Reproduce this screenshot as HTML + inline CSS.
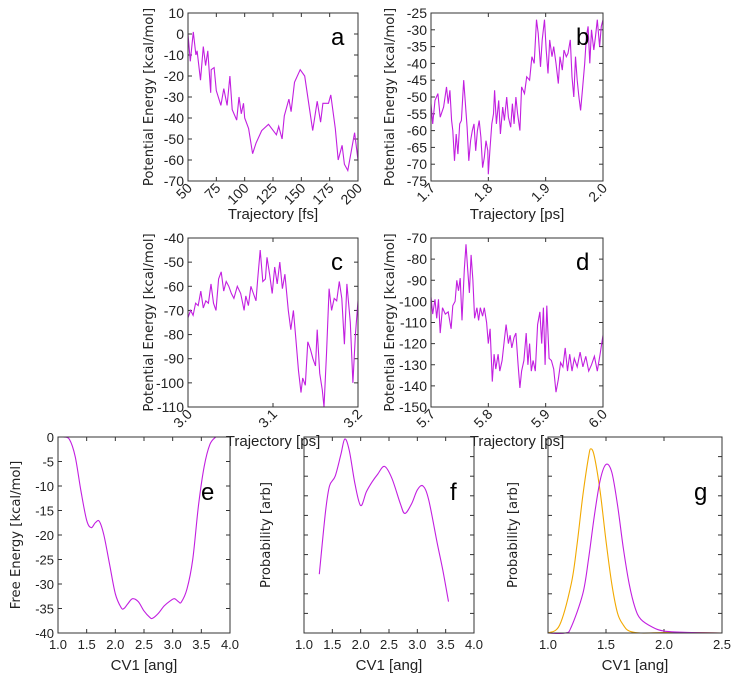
<!DOCTYPE html>
<html><head><meta charset="utf-8"><style>
body{margin:0;background:#fff}
svg{display:block;font-family:"Liberation Sans","DejaVu Sans",sans-serif}
</style></head><body>
<svg id="chart" width="734" height="679" viewBox="0 0 734 679" xmlns="http://www.w3.org/2000/svg"></svg>
<script>
// Panel a
const aX=[50,52,54.7,57,58,61,63.5,65.5,67.5,70,70.5,73,75,79,81.6,84.5,87,89,93,95,97,99,100,103.5,107,110,115,121,128,130,133,135,139,141,144,149,153,160,164,167,169,174,176,180,182.5,186,188,191,197,200];
const aY=[0,-13,1,-10,-8,-22,-6,-15,-8,-28,-17,-16,-27,-34,-26,-34,-20,-36,-41,-30,-38,-33,-40,-45,-57,-52,-46,-43,-48,-44,-50,-39,-31,-37,-23,-17,-20,-46,-32,-42,-33,-33,-29,-45,-60,-53,-62,-65,-47,-60];
// Panel b
const bX=[1.700,1.703,1.707,1.712,1.716,1.722,1.727,1.730,1.733,1.736,1.738,1.741,1.744,1.747,1.750,1.753,1.757,1.760,1.763,1.766,1.769,1.772,1.775,1.778,1.781,1.784,1.787,1.790,1.793,1.796,1.799,1.800,1.803,1.806,1.809,1.811,1.814,1.818,1.821,1.825,1.828,1.832,1.835,1.839,1.842,1.845,1.848,1.851,1.855,1.858,1.863,1.867,1.872,1.876,1.880,1.884,1.887,1.891,1.894,1.898,1.901,1.904,1.907,1.911,1.914,1.918,1.922,1.925,1.929,1.932,1.936,1.939,1.943,1.946,1.949,1.952,1.955,1.958,1.961,1.964,1.968,1.971,1.974,1.977,1.980,1.984,1.987,1.990,1.994,1.997,2.000];
const bY=[-52,-58,-51,-49,-56,-53,-47,-52,-48,-57,-60,-69,-61,-67,-58,-57,-45,-52,-59,-69,-63,-60,-58,-66,-60,-57,-62,-71,-68,-63,-66,-73,-65,-58,-55,-48,-58,-51,-61,-53,-57,-50,-56,-59,-52,-58,-50,-55,-60,-47,-49,-44,-45,-38,-40,-27,-31,-41,-33,-27,-36,-43,-33,-38,-35,-40,-46,-38,-42,-36,-38,-37,-33,-44,-50,-38,-45,-50,-54,-48,-40,-32,-29,-40,-30,-36,-32,-27,-35,-29,-27];
// Panel c
const cX=[3.000,3.003,3.006,3.009,3.012,3.015,3.018,3.021,3.024,3.027,3.030,3.033,3.036,3.039,3.042,3.045,3.048,3.051,3.054,3.058,3.062,3.066,3.068,3.071,3.074,3.077,3.080,3.082,3.085,3.088,3.091,3.093,3.096,3.099,3.102,3.105,3.108,3.111,3.114,3.118,3.121,3.124,3.127,3.130,3.133,3.135,3.138,3.141,3.144,3.147,3.150,3.152,3.155,3.158,3.160,3.163,3.166,3.169,3.172,3.175,3.178,3.181,3.184,3.187,3.191,3.194,3.197,3.200];
const cY=[-73,-70,-72,-67,-68,-62,-69,-66,-67,-59,-67,-70,-57,-54,-62,-58,-60,-63,-65,-60,-63,-70,-64,-68,-60,-63,-66,-57,-45,-58,-57,-48,-55,-63,-52,-59,-50,-61,-55,-70,-78,-70,-82,-95,-104,-98,-101,-83,-86,-90,-93,-78,-96,-103,-110,-88,-61,-70,-65,-66,-58,-65,-84,-59,-75,-100,-80,-66];
// Panel d
const dX=[5.700,5.703,5.707,5.710,5.713,5.716,5.720,5.725,5.730,5.735,5.738,5.742,5.745,5.748,5.751,5.754,5.758,5.761,5.764,5.767,5.770,5.773,5.776,5.780,5.783,5.786,5.790,5.793,5.797,5.800,5.803,5.807,5.810,5.813,5.817,5.820,5.824,5.828,5.831,5.835,5.838,5.841,5.845,5.848,5.852,5.855,5.858,5.862,5.866,5.869,5.872,5.875,5.878,5.882,5.886,5.890,5.893,5.896,5.899,5.902,5.906,5.910,5.914,5.918,5.922,5.926,5.930,5.934,5.938,5.942,5.946,5.950,5.955,5.960,5.965,5.970,5.975,5.980,5.985,5.990,5.995,6.000];
const dY=[-98,-106,-99,-108,-99,-115,-103,-106,-105,-113,-102,-100,-90,-95,-89,-109,-85,-73,-85,-96,-78,-90,-108,-103,-109,-103,-107,-103,-110,-120,-113,-138,-125,-132,-125,-133,-128,-118,-111,-120,-116,-122,-117,-115,-130,-141,-133,-128,-115,-130,-120,-133,-128,-133,-111,-105,-120,-103,-130,-102,-127,-128,-132,-143,-137,-129,-131,-122,-133,-125,-133,-127,-131,-124,-131,-126,-133,-130,-126,-133,-125,-116];
// Panel e
const eX=[1.1,1.2,1.3,1.4,1.5,1.58,1.65,1.72,1.8,1.9,2.0,2.1,2.15,2.22,2.3,2.4,2.5,2.6,2.65,2.75,2.85,2.95,3.03,3.1,3.15,3.25,3.35,3.45,3.55,3.65,3.75];
const eY=[0,-0.5,-4,-11,-17,-18.5,-17.5,-17.2,-20,-26,-32,-34.8,-35,-34,-33,-33.6,-35.5,-36.8,-37,-36,-34.5,-33.5,-33,-33.6,-33.7,-31,-25,-14,-6,-1.5,0];
// Panel f
const fX=[1.27,1.38,1.45,1.55,1.65,1.72,1.8,1.9,2.0,2.1,2.2,2.3,2.42,2.55,2.7,2.78,2.9,3.0,3.1,3.2,3.35,3.45,3.55];
const fY=[0.30,0.62,0.75,0.80,0.91,0.99,0.93,0.76,0.65,0.72,0.77,0.81,0.85,0.79,0.66,0.61,0.66,0.73,0.75,0.68,0.46,0.32,0.16];
// Panel g
const gOX=[1.0,1.1,1.2,1.25,1.3,1.35,1.37,1.4,1.45,1.5,1.55,1.6,1.65,1.7,1.8,2.0,2.25,2.5];
const gOY=[0,0.04,0.25,0.45,0.7,0.9,0.94,0.9,0.72,0.47,0.25,0.1,0.04,0.01,0,0.002,0.002,0];
const gPX=[1.0,1.15,1.2,1.3,1.35,1.4,1.45,1.5,1.55,1.6,1.65,1.7,1.75,1.8,1.9,2.0,2.2,2.5];
const gPY=[0,0,0.03,0.2,0.38,0.6,0.78,0.86,0.82,0.65,0.43,0.25,0.13,0.07,0.03,0.01,0.003,0];

const aTicksX=[50,75,100,125,150,175,200], aTicksY=[10,0,-10,-20,-30,-40,-50,-60,-70];
const bTicksX=[1.7,1.8,1.9,2.0], bTicksY=[-25,-30,-35,-40,-45,-50,-55,-60,-65,-70,-75];
const cTicksX=[3.0,3.1,3.2], cTicksY=[-40,-50,-60,-70,-80,-90,-100,-110];
const dTicksX=[5.7,5.8,5.9,6.0], dTicksY=[-70,-80,-90,-100,-110,-120,-130,-140,-150];
const eTicksX=[1.0,1.5,2.0,2.5,3.0,3.5,4.0], eTicksY=[0,-5,-10,-15,-20,-25,-30,-35,-40];
const fTicksX=[1.0,1.5,2.0,2.5,3.0,3.5,4.0];
const gTicksX=[1.0,1.5,2.0,2.5];

const NS='http://www.w3.org/2000/svg';
const svg=document.getElementById('chart');
const PURPLE='#c21fe0', ORANGE='#f2a900';
function mk(tag,attrs,parent){const e=document.createElementNS(NS,tag);for(const k in attrs)e.setAttribute(k,attrs[k]);(parent||svg).appendChild(e);return e;}
function smoothPath(pts){let d='M'+pts[0][0]+','+pts[0][1];for(let i=0;i<pts.length-1;i++){const p0=pts[Math.max(0,i-1)],p1=pts[i],p2=pts[i+1],p3=pts[Math.min(pts.length-1,i+2)];const c1x=p1[0]+(p2[0]-p0[0])/6,c1y=p1[1]+(p2[1]-p0[1])/6,c2x=p2[0]-(p3[0]-p1[0])/6,c2y=p2[1]-(p3[1]-p1[1])/6;d+=' C'+c1x+','+c1y+' '+c2x+','+c2y+' '+p2[0]+','+p2[1];}return d;}

function panel(o){
  const g=mk('g',{});
  
  
  const sx=v=>o.x0+(v-o.xmin)/(o.xmax-o.xmin)*(o.x1-o.x0);
  const sy=v=>o.y1-(v-o.ymin)/(o.ymax-o.ymin)*(o.y1-o.y0);
  (o.yt||[]).forEach(t=>{const y=sy(t);
    mk('line',{x1:o.x0,x2:o.x0+4,y1:y,y2:y,stroke:'#333','stroke-width':1},g);
    mk('line',{x1:o.x1,x2:o.x1-4,y1:y,y2:y,stroke:'#333','stroke-width':1},g);
    if(o.ylab){const t2=mk('text',{x:o.x0-4,y:y+5,'text-anchor':'end','font-size':o.fs,fill:'#222'},g);t2.textContent=t;
      
      }
  });
  o.xt.forEach(t=>{const x=sx(t);
    mk('line',{x1:x,x2:x,y1:o.y1,y2:o.y1-4,stroke:'#333','stroke-width':1},g);
    mk('line',{x1:x,x2:x,y1:o.y0,y2:o.y0+4,stroke:'#333','stroke-width':1},g);
    const lbl=o.fmt?t.toFixed(1):String(t);
    let t2;
    if(o.rot){t2=mk('text',{x:x+5,y:o.y1+8,'text-anchor':'end','font-size':o.fs,fill:'#222',transform:'rotate(-45 '+(x+5)+' '+(o.y1+8)+')'},g);}
    else{t2=mk('text',{x:x,y:o.y1+16,'text-anchor':'middle','font-size':o.fs,fill:'#222'},g);}
    t2.textContent=lbl;
    
    
  });
  o.series.forEach((s,i)=>{
    const pts=s.x.map((v,j)=>[sx(v),sy(s.y[j])]);
    const d=s.smooth?smoothPath(pts):'M'+pts.map(p=>p[0].toFixed(1)+','+p[1].toFixed(1)).join(' L');
    const p=mk('path',{d:d,fill:'none',stroke:s.c,'stroke-width':1.1},g);
    
    
  });
  const box=mk('rect',{x:o.x0,y:o.y0,width:o.x1-o.x0,height:o.y1-o.y0,fill:'none',stroke:'#333','stroke-width':1},g);
  
  
  const L=mk('text',{x:o.lx,y:o.ly,'font-size':24,fill:'#000'},g);L.textContent=o.id;
  
  
  const xl=mk('text',{x:(o.x0+o.x1)/2,y:o.xly,'text-anchor':'middle','font-size':15,fill:'#222'},g);xl.textContent=o.xlabel;
  
  
  const yl=mk('text',{x:0,y:0,'text-anchor':'middle','font-size':13.2,fill:'#222','font-family':'DejaVu Sans, sans-serif',transform:'translate('+o.ylx+' '+(o.y0+o.y1)/2+') rotate(-90)'},g);yl.textContent=o.ylabel;
  
  
}
const PE='Potential Energy [kcal/mol]';
panel({id:'a',x0:188,x1:358,y0:13,y1:181,xmin:50,xmax:200,ymin:-70,ymax:10,xt:aTicksX,yt:aTicksY,ylab:true,rot:true,fs:14,series:[{x:aX,y:aY,c:PURPLE}],lx:331,ly:45,xly:219,xlabel:'Trajectory [fs]',ylx:153,ylabel:PE});
panel({id:'b',x0:431,x1:603,y0:13,y1:181,xmin:1.7,xmax:2.0,ymin:-75,ymax:-25,xt:bTicksX,yt:bTicksY,ylab:true,rot:true,fmt:true,fs:14,series:[{x:bX,y:bY,c:PURPLE}],lx:576,ly:45,xly:219,xlabel:'Trajectory [ps]',ylx:394,ylabel:PE});
panel({id:'c',x0:188,x1:358,y0:238,y1:407,xmin:3.0,xmax:3.2,ymin:-110,ymax:-40,xt:cTicksX,yt:cTicksY,ylab:true,rot:true,fmt:true,fs:14,series:[{x:cX,y:cY,c:PURPLE}],lx:331,ly:270,xly:446,xlabel:'Trajectory [ps]',ylx:153,ylabel:PE});
panel({id:'d',x0:431,x1:603,y0:238,y1:407,xmin:5.7,xmax:6.0,ymin:-150,ymax:-70,xt:dTicksX,yt:dTicksY,ylab:true,rot:true,fmt:true,fs:14,series:[{x:dX,y:dY,c:PURPLE}],lx:576,ly:270,xly:446,xlabel:'Trajectory [ps]',ylx:394,ylabel:PE});
panel({id:'e',x0:58,x1:230,y0:437,y1:633,xmin:1.0,xmax:4.0,ymin:-40,ymax:0,xt:eTicksX,yt:eTicksY,ylab:true,fmt:true,fs:13,series:[{x:eX,y:eY,c:PURPLE,smooth:true}],lx:201,ly:500,xly:670,xlabel:'CV1 [ang]',ylx:20,ylabel:'Free Energy [kcal/mol]'});
panel({id:'f',x0:304,x1:474,y0:437,y1:633,xmin:1.0,xmax:4.0,ymin:0,ymax:1,xt:fTicksX,yt:[0.1,0.2,0.3,0.4,0.5,0.6,0.7,0.8,0.9],ylab:false,fmt:true,fs:13,series:[{x:fX,y:fY,c:PURPLE,smooth:true}],lx:450,ly:500,xly:670,xlabel:'CV1 [ang]',ylx:270,ylabel:'Probability [arb]'});
panel({id:'g',x0:548,x1:722,y0:437,y1:633,xmin:1.0,xmax:2.5,ymin:0,ymax:1,xt:gTicksX,yt:[0.1,0.2,0.3,0.4,0.5,0.6,0.7,0.8,0.9],ylab:false,fmt:true,fs:13,series:[{x:gOX,y:gOY,c:ORANGE,smooth:true},{x:gPX,y:gPY,c:PURPLE,smooth:true}],lx:694,ly:500,xly:670,xlabel:'CV1 [ang]',ylx:517,ylabel:'Probability [arb]'});
</script>
</body></html>
